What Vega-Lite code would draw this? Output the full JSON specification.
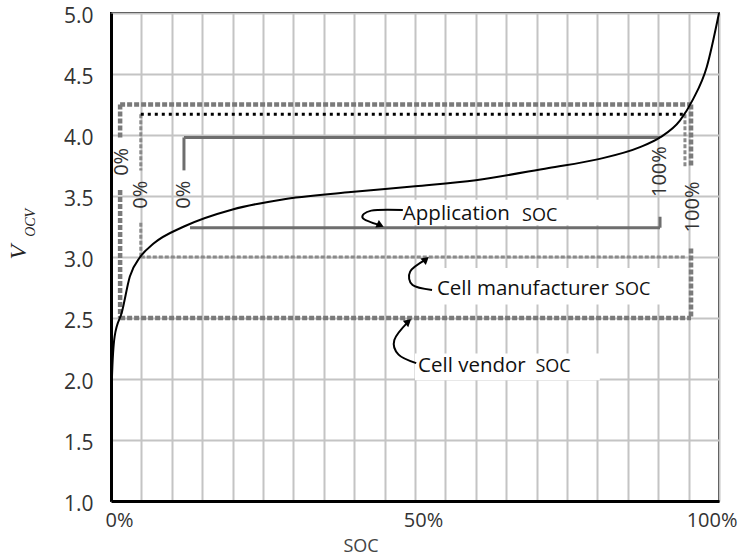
{
  "$schema": "https://vega.github.io/schema/vega-lite/v6.json",
  "width": 608,
  "height": 488,
  "autosize": {"type": "none"},
  "padding": {"left": 111, "top": 13, "right": 23, "bottom": 57},
  "config": {"view": {"stroke": "black", "strokeWidth": 2}, "font": "Open Sans"},
  "datasets": {
    "curve": [
      {"x": 0, "y": 1.0}, {"x": 0.05, "y": 1.5}, {"x": 0.15, "y": 2.0}, {"x": 0.6, "y": 2.35},
      {"x": 1.8, "y": 2.55}, {"x": 3.1, "y": 2.84}, {"x": 4.8, "y": 3.0}, {"x": 7, "y": 3.11},
      {"x": 12, "y": 3.25}, {"x": 20, "y": 3.39}, {"x": 28, "y": 3.47}, {"x": 39, "y": 3.53},
      {"x": 50, "y": 3.58}, {"x": 60, "y": 3.63}, {"x": 72, "y": 3.73}, {"x": 80, "y": 3.8},
      {"x": 87, "y": 3.9}, {"x": 90.3, "y": 3.98}, {"x": 93.6, "y": 4.12}, {"x": 95.7, "y": 4.29},
      {"x": 98, "y": 4.56}, {"x": 100, "y": 5.0}
    ],
    "boxes": [
      {"x": 47.5, "x2": 82.6, "y": 3.47, "y2": 3.26},
      {"x": 52.5, "x2": 91.1, "y": 2.91, "y2": 2.61},
      {"x": 50.0, "x2": 80.4, "y": 2.21, "y2": 1.99}
    ],
    "vendor": [
      {"x": 1.5, "x2": 1.5, "y": 4.25, "y2": 3.98},
      {"x": 1.5, "x2": 1.5, "y": 3.55, "y2": 2.5},
      {"x": 1.5, "x2": 95.4, "y": 4.25, "y2": 4.25},
      {"x": 1.5, "x2": 95.4, "y": 2.5, "y2": 2.5},
      {"x": 95.4, "x2": 95.4, "y": 4.25, "y2": 3.74},
      {"x": 95.4, "x2": 95.4, "y": 3.07, "y2": 2.5}
    ],
    "manuf": [
      {"x": 4.9, "x2": 4.9, "y": 4.17, "y2": 3.71},
      {"x": 4.9, "x2": 4.9, "y": 3.28, "y2": 3.0},
      {"x": 4.9, "x2": 94.4, "y": 3.0, "y2": 3.0},
      {"x": 94.4, "x2": 94.4, "y": 4.17, "y2": 3.74}
    ],
    "manufTop": [
      {"x": 4.9, "x2": 94.4, "y": 4.17, "y2": 4.17}
    ],
    "app": [
      {"x": 12, "x2": 12, "y": 3.98, "y2": 3.71},
      {"x": 12, "x2": 90.3, "y": 3.98, "y2": 3.98},
      {"x": 13, "x2": 90.3, "y": 3.24, "y2": 3.24},
      {"x": 90.3, "x2": 90.3, "y": 3.24, "y2": 3.33}
    ],
    "pct": [
      {"x": 1.8, "y": 3.78, "t": "0%"},
      {"x": 5.0, "y": 3.51, "t": "0%"},
      {"x": 12, "y": 3.51, "t": "0%"},
      {"x": 90.3, "y": 3.70, "t": "100%"},
      {"x": 95.8, "y": 3.41, "t": "100%"}
    ],
    "arrows": [
      {"a": "app", "o": 1, "x": 48.0, "y": 3.385},
      {"a": "app", "o": 2, "x": 42.8, "y": 3.38},
      {"a": "app", "o": 3, "x": 41.4, "y": 3.32},
      {"a": "app", "o": 4, "x": 44.3, "y": 3.26},
      {"a": "man", "o": 1, "x": 52.8, "y": 2.73},
      {"a": "man", "o": 2, "x": 49.6, "y": 2.77},
      {"a": "man", "o": 3, "x": 49.2, "y": 2.88},
      {"a": "man", "o": 4, "x": 51.8, "y": 2.98},
      {"a": "ven", "o": 1, "x": 50.2, "y": 2.13},
      {"a": "ven", "o": 2, "x": 47.3, "y": 2.2},
      {"a": "ven", "o": 3, "x": 46.6, "y": 2.32},
      {"a": "ven", "o": 4, "x": 48.9, "y": 2.47}
    ],
    "labels": [
      {"x": 48.0, "y": 3.35, "t": "Application"},
      {"x": 53.6, "y": 2.74, "t": "Cell manufacturer"},
      {"x": 50.5, "y": 2.11, "t": "Cell vendor"}
    ],
    "soc": [
      {"x": 67.6, "y": 3.34, "t": "SOC"},
      {"x": 82.9, "y": 2.73, "t": "SOC"},
      {"x": 69.8, "y": 2.10, "t": "SOC"}
    ],
    "ytitleV": [{"x": -15.1, "y": 3.04, "t": "V"}],
    "ytitleSub": [{"x": -13.2, "y": 3.28, "t": "OCV"}]
  },
  "encoding": {
    "x": {
      "field": "x", "type": "quantitative",
      "scale": {"domain": [0, 100], "nice": false},
      "axis": {
        "title": "SOC", "titleX": 232, "titleY": 45, "titleAlign": "left", "titleBaseline": "middle",
        "titleFontSize": 18, "titleFontWeight": "normal", "titleColor": "#444", "titleFont": "Open Sans",
        "values": [0,5,10,15,20,25,30,35,40,45,50,55,60,65,70,75,80,85,90,95,100],
        "labelExpr": "datum.value % 50 == 0 ? datum.value + '%' : ''",
        "labelFontSize": 20, "labelColor": "#333", "labelPadding": 9,
        "labelAlign": {"condition": {"test": "datum.value == 100", "value": "right"}, "value": "center"},
        "labelOffset": {"condition": {"test": "datum.value == 100", "value": 18}, "value": 8},
        "ticks": false, "domainColor": "black", "domainWidth": 3,
        "grid": true, "gridColor": "#c4c4c4", "gridWidth": 2
      }
    },
    "y": {
      "field": "y", "type": "quantitative",
      "scale": {"domain": [1, 5], "nice": false, "zero": false},
      "axis": {
        "title": null,
        "values": [1,1.5,2,2.5,3,3.5,4,4.5,5],
        "format": ".1f",
        "labelFontSize": 21, "labelColor": "#333", "labelPadding": 18,
        "labelOffset": 3,
        "ticks": false, "domainColor": "black", "domainWidth": 3,
        "grid": true, "gridColor": "#c4c4c4", "gridWidth": 2
      }
    }
  },
  "layer": [
    {
      "data": {"name": "boxes"},
      "mark": {"type": "rect", "fill": "white"},
      "encoding": {"x2": {"field": "x2"}, "y2": {"field": "y2"}}
    },
    {
      "data": {"name": "vendor"},
      "mark": {"type": "rule", "color": "#7a7a7a", "strokeWidth": 4.5, "strokeDash": [5, 2]},
      "encoding": {"x2": {"field": "x2"}, "y2": {"field": "y2"}}
    },
    {
      "data": {"name": "manuf"},
      "mark": {"type": "rule", "color": "#8a8a8a", "strokeWidth": 3, "strokeDash": [4, 2]},
      "encoding": {"x2": {"field": "x2"}, "y2": {"field": "y2"}}
    },
    {
      "data": {"name": "manufTop"},
      "mark": {"type": "rule", "color": "black", "strokeWidth": 3, "strokeDash": [3, 4]},
      "encoding": {"x2": {"field": "x2"}, "y2": {"field": "y2"}}
    },
    {
      "data": {"name": "app"},
      "mark": {"type": "rule", "color": "#6e6e6e", "strokeWidth": 3},
      "encoding": {"x2": {"field": "x2"}, "y2": {"field": "y2"}}
    },
    {
      "data": {"name": "curve"},
      "mark": {"type": "line", "color": "black", "strokeWidth": 2, "interpolate": "monotone"},
      "encoding": {}
    },
    {
      "data": {"name": "pct"},
      "mark": {"type": "text", "angle": 270, "fontSize": 20, "color": "#333", "align": "center", "baseline": "middle"},
      "encoding": {"text": {"field": "t"}}
    },
    {
      "data": {"name": "arrows"},
      "mark": {"type": "line", "color": "black", "strokeWidth": 2, "interpolate": "cardinal"},
      "encoding": {"detail": {"field": "a"}, "order": {"field": "o"}}
    },
    {
      "data": {"name": "arrows"},
      "transform": [{"filter": "datum.a == 'app' && datum.o == 4"}],
      "mark": {"type": "point", "shape": "triangle-right", "filled": true, "color": "black", "size": 70, "angle": 25, "opacity": 1},
      "encoding": {}
    },
    {
      "data": {"name": "arrows"},
      "transform": [{"filter": "datum.a != 'app' && datum.o == 4"}],
      "mark": {"type": "point", "shape": "triangle-right", "filled": true, "color": "black", "size": 70, "angle": -40, "opacity": 1},
      "encoding": {}
    },
    {
      "data": {"name": "labels"},
      "mark": {"type": "text", "fontSize": 20.5, "color": "#111", "align": "left", "baseline": "middle"},
      "encoding": {"text": {"field": "t"}}
    },
    {
      "data": {"name": "soc"},
      "mark": {"type": "text", "fontSize": 18, "color": "#111", "align": "left", "baseline": "middle"},
      "encoding": {"text": {"field": "t"}}
    },
    {
      "data": {"name": "ytitleV"},
      "mark": {"type": "text", "angle": 270, "fontSize": 24, "font": "Liberation Serif", "fontStyle": "italic", "color": "#222", "align": "center", "baseline": "middle"},
      "encoding": {"text": {"field": "t"}}
    },
    {
      "data": {"name": "ytitleSub"},
      "mark": {"type": "text", "angle": 270, "fontSize": 14, "font": "Liberation Serif", "fontStyle": "italic", "color": "#222", "align": "center", "baseline": "middle"},
      "encoding": {"text": {"field": "t"}}
    }
  ]
}
